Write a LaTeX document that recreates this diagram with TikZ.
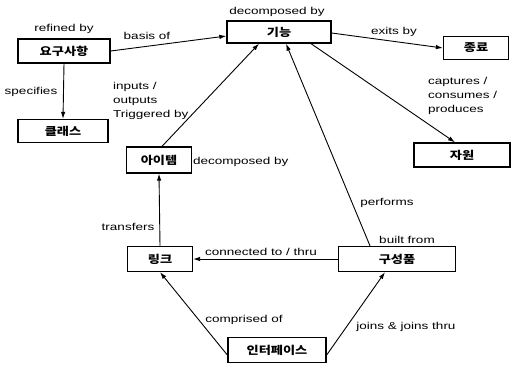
\documentclass[tikz,border=0pt]{standalone}
\usepackage{fontspec}
\setmainfont{Liberation Sans}[FakeStretch=1.35]
\newfontfamily\kr{Noto Sans CJK KR}[FakeStretch=1.2]
\usetikzlibrary{arrows.meta,calc}
\tikzset{entity/.style={draw,line width=1.3pt,inner sep=0pt,minimum height=23pt,font=\kr\bfseries\fontsize{11}{13}\selectfont}, flow/.style={-{Latex[length=7pt,width=4.5pt]},line width=0.9pt}, rel/.style={font=\fontsize{10}{14}\selectfont,inner sep=1pt,align=left}}

\begin{document}
\begin{tikzpicture}[x=1pt,y=-1pt]
\useasboundingbox (0,0) rectangle (511,368);
% entities
\node[entity,minimum width=92pt,minimum height=24pt] (req) at (64,51) {요구사항};
\node[entity,minimum width=90pt] (cls) at (63,131) {클래스};
\node[entity,minimum width=104pt,minimum height=22pt] (func) at (279,32) {기능};
\node[entity,minimum width=65pt] (end) at (476,48) {종료};
\node[entity,minimum width=96pt,minimum height=24pt] (res) at (462,155) {자원};
\node[entity,minimum width=65pt,minimum height=26pt] (item) at (159,160) {아이템};
\node[entity,minimum width=65pt,minimum height=25pt] (link) at (160,259) {링크};
\node[entity,minimum width=117pt,minimum height=25pt] (comp) at (397,259) {구성품};
\node[entity,minimum width=98pt,minimum height=25pt] (iface) at (277,350) {인터페이스};
% relations
\draw[flow] (req.east) -- ([yshift=-4pt]func.west);
\draw[flow] (req.south) -- (cls.north);
\draw[flow] ([yshift=-1pt]func.east) -- (end.west);
\draw[flow] ([xshift=32pt]func.south) -- ([xshift=-7pt]res.north);
\draw[flow] ([xshift=3pt]item.north) -- ([xshift=-20pt]func.south);
\draw[flow] ([xshift=-27pt]comp.north) -- ([xshift=7pt]func.south);
\draw[flow] (link.north) -- (item.south);
\draw[flow] (comp.west) -- (link.east);
\draw[flow] ([yshift=-5pt]iface.west) -- (link.south);
\draw[flow] ([yshift=-5pt]iface.east) -- ([xshift=-12pt]comp.south);
% labels
\node[rel] (lrefined) at (64,29) {refined by};
\node[rel] (lbasis) at (147,36) {basis of};
\node[rel] (ldecomp) at (277,12) {decomposed by};
\node[rel] (lexits) at (394,32) {exits by};
\node[rel] (lspec) at (31,92) {specifies};
\node[rel,anchor=west] (linputs) at (112,101) {inputs /\\outputs\\Triggered by};
\node[rel,anchor=west] (lcapt) at (427,96) {captures /\\consumes /\\produces};
\node[rel,anchor=west] (lsubitem) at (192,162) {decomposed by};
\node[rel] (lperf) at (387,203) {performs};
\node[rel] (lbuilt) at (407,240) {built from};
\node[rel] (ltrans) at (128,227) {transfers};
\node[rel] (lconn) at (261,252) {connected to / thru};
\node[rel] (lcompr) at (244,320) {comprised of};
\node[rel] (ljoins) at (406,327) {joins \& joins thru};
\end{tikzpicture}
\end{document}
